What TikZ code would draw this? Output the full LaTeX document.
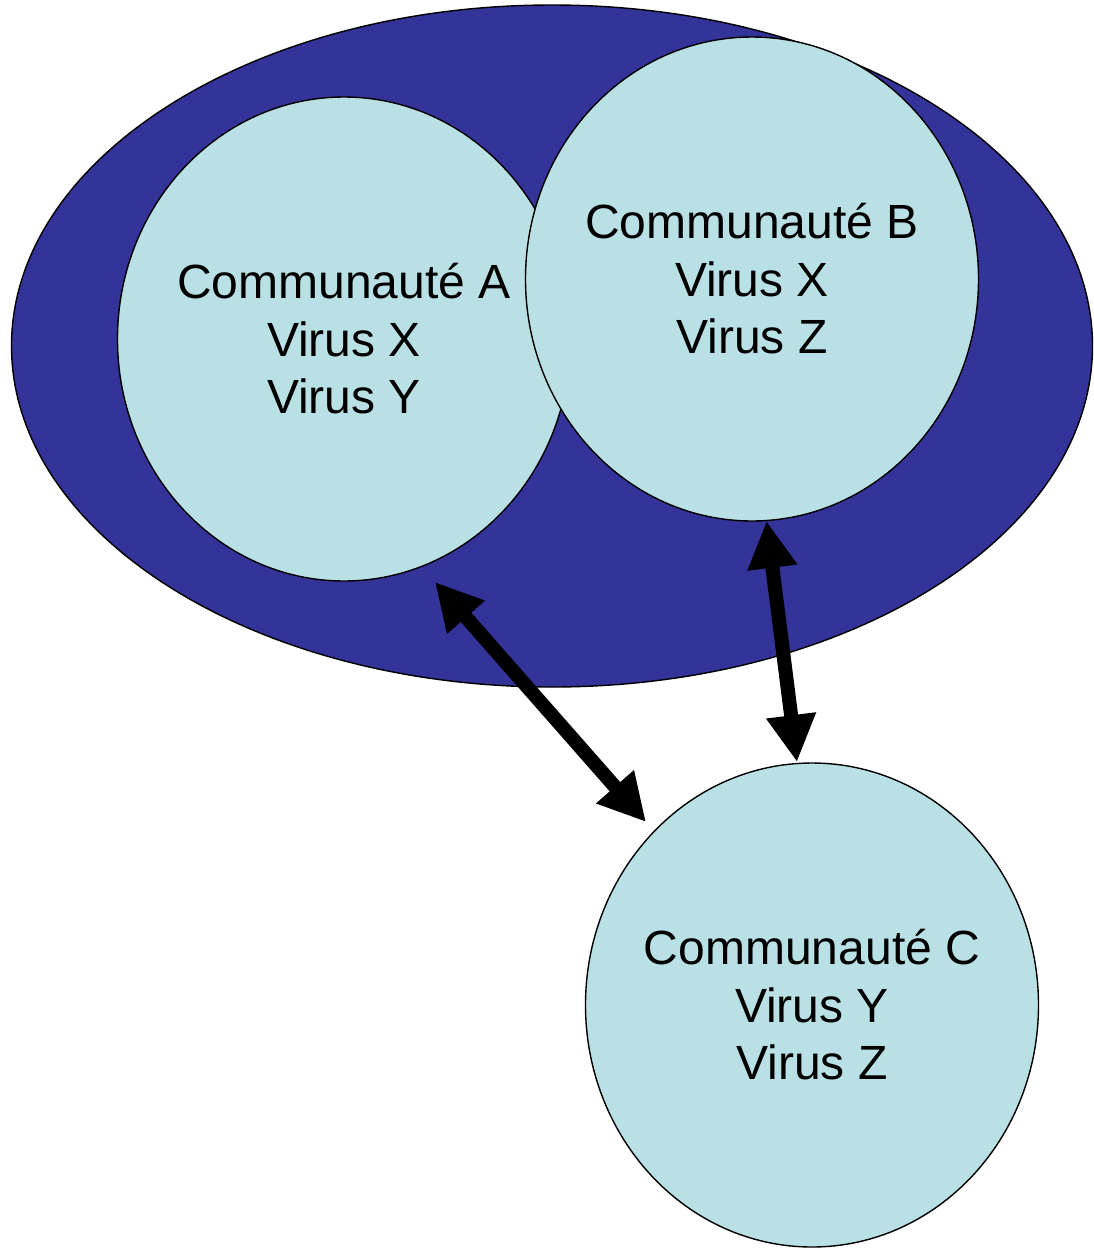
\documentclass[tikz,border=0pt]{standalone}
\usepackage{fontspec}
\setmainfont{Liberation Sans}
\usetikzlibrary{shapes.geometric,arrows.meta}

\definecolor{regionblue}{HTML}{333399}
\definecolor{commfill}{HTML}{B9E0E4}

\tikzset{
  region/.style={ellipse, draw=black, line width=1.4pt, fill=regionblue,
    minimum width=1081pt, minimum height=682pt, inner sep=0pt},
  community/.style={ellipse, draw=black, line width=1.4pt, fill=commfill,
    minimum width=453pt, minimum height=484pt, inner sep=0pt},
  commtext/.style={align=center, inner sep=0pt,
    font=\fontsize{48}{57.5}\selectfont},
  exchange/.style={line width=14pt,
    {Triangle[width=47pt,length=47pt]}-{Triangle[width=47pt,length=47pt]}}
}

\begin{document}
\begin{tikzpicture}[x=1pt,y=-1pt]
  \useasboundingbox (0,0) rectangle (1093,1248);

  % shared region
  \node[region] (R) at (552,346) {};

  % communities and their virus lists
  \node[community] (A) at (344,339) {};
  \node[commtext] (At) at (A.center) {Communauté A\\Virus X\\Virus Y};
  \node[community] (B) at (752,279) {};
  \node[commtext] (Bt) at (B.center) {Communauté B\\Virus X\\Virus Z};
  \node[community] (C) at (812,1005) {};
  \node[commtext] (Ct) at (C.center) {Communauté C\\Virus Y\\Virus Z};

  % exchange arrows
  \coordinate (aEnd) at (435,582);
  \coordinate (caEnd) at (646,822);
  \coordinate (bEnd) at (766.5,521);
  \coordinate (cbEnd) at (797,762);
  \draw[exchange] (aEnd) -- (caEnd);
  \draw[exchange] (bEnd) -- (cbEnd);
\end{tikzpicture}
\end{document}
